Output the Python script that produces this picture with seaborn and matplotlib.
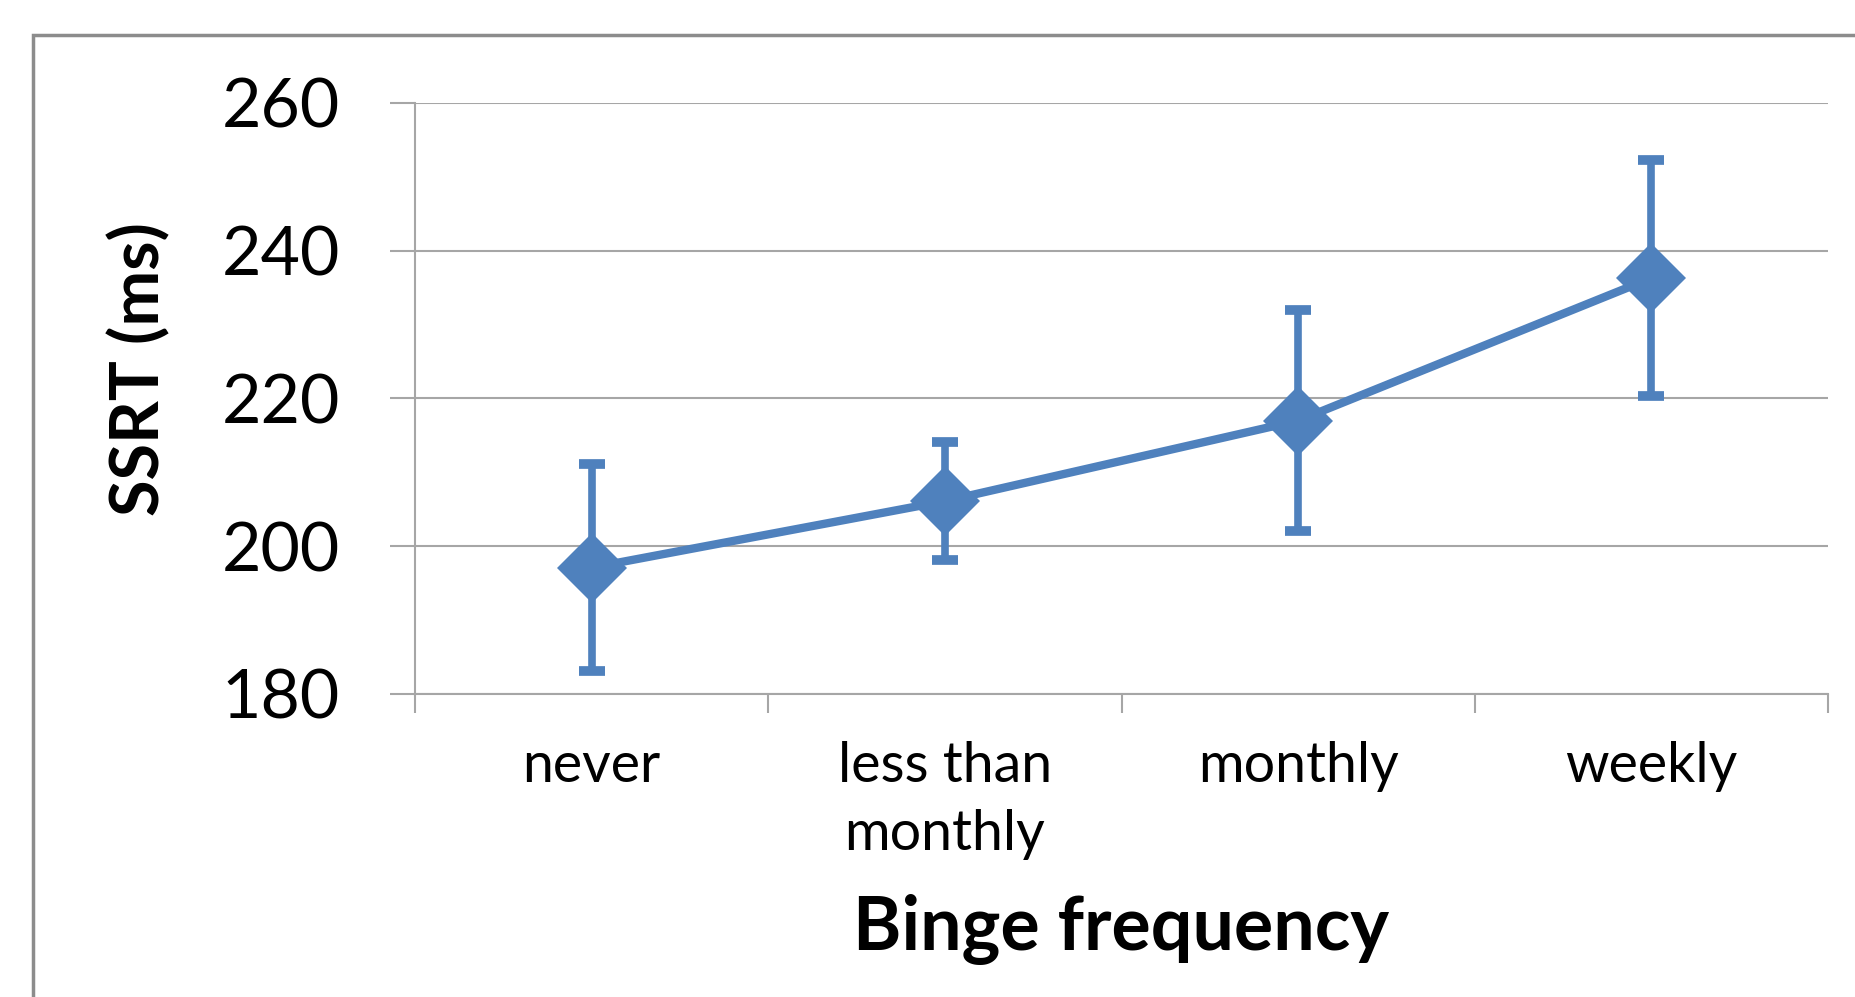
import numpy as np
import pandas as pd
import matplotlib
matplotlib.use("Agg")
import matplotlib.pyplot as plt
import seaborn as sns
from matplotlib.patches import Rectangle

categories = ["never", "less than\nmonthly", "monthly", "weekly"]
ssrt_mean = [197.1, 206.1, 217.0, 236.3]
ssrt_err = [14.0, 8.0, 15.0, 16.0]
y_ticks = [180, 200, 220, 240, 260]

blue = "#4F81BD"
grid_gray = "#A6A6A6"

sns.set_style("white")
plt.rcParams["font.family"] = ["Lato", "DejaVu Sans"]
plt.rcParams["text.color"] = "black"

df = pd.DataFrame({"cat": categories, "ssrt": ssrt_mean})
df["x"] = np.arange(len(categories))

fig = plt.figure(figsize=(18.55, 9.97), dpi=100)
ax = fig.add_axes([0.2237, 0.304, 0.7618, 0.5927])

# outer chart frame (cut off at right and bottom like the screenshot)
fig.patches.append(Rectangle((0.0178, -0.05), 1.2, 1.0149, transform=fig.transFigure,
                             fill=False, edgecolor="#8C8C8C", linewidth=2.5, zorder=0))

ax.errorbar(df["x"], df["ssrt"], yerr=ssrt_err, fmt="none", ecolor=blue,
            elinewidth=5.5, capsize=9.5, capthick=7, zorder=3)
sns.lineplot(data=df, x="x", y="ssrt", ax=ax, color=blue, linewidth=6,
             marker="D", markersize=36, markeredgewidth=0, zorder=4)

ax.set_xlim(-0.5, len(categories) - 0.5)
ax.set_ylim(180, 260)
ax.set_yticks(y_ticks)
ax.set_yticklabels([str(t) for t in y_ticks], fontsize=49, color="black")
ax.set_xticks(df["x"])
ax.set_xticklabels(categories, fontsize=40, linespacing=1.4, color="black")
ax.set_xticks(np.arange(-0.5, len(categories)), minor=True)
ax.tick_params(left=True, bottom=True)
ax.tick_params(axis="x", which="major", length=0, pad=34)
ax.tick_params(axis="x", which="minor", bottom=True, length=14, width=1.5, color=grid_gray)
ax.tick_params(axis="y", which="major", length=18, width=1.5, color=grid_gray, pad=36)

ax.yaxis.grid(True, color=grid_gray, linewidth=1.5)
ax.set_axisbelow(True)
for s in ["top", "right"]:
    ax.spines[s].set_visible(False)
for s in ["left", "bottom"]:
    ax.spines[s].set_color(grid_gray)
    ax.spines[s].set_linewidth(1.5)

ax.set_xlabel("Binge frequency", fontsize=53, fontweight="bold", color="black")
ax.xaxis.set_label_coords(0.5, -0.398)
ax.xaxis.label.set_va("center")
ax.set_ylabel("SSRT (ms)", fontsize=48, fontweight="bold", color="black")
ax.yaxis.set_label_coords(-0.195, 0.55)
ax.yaxis.label.set_va("center")

fig.savefig("out.png", dpi=100)
